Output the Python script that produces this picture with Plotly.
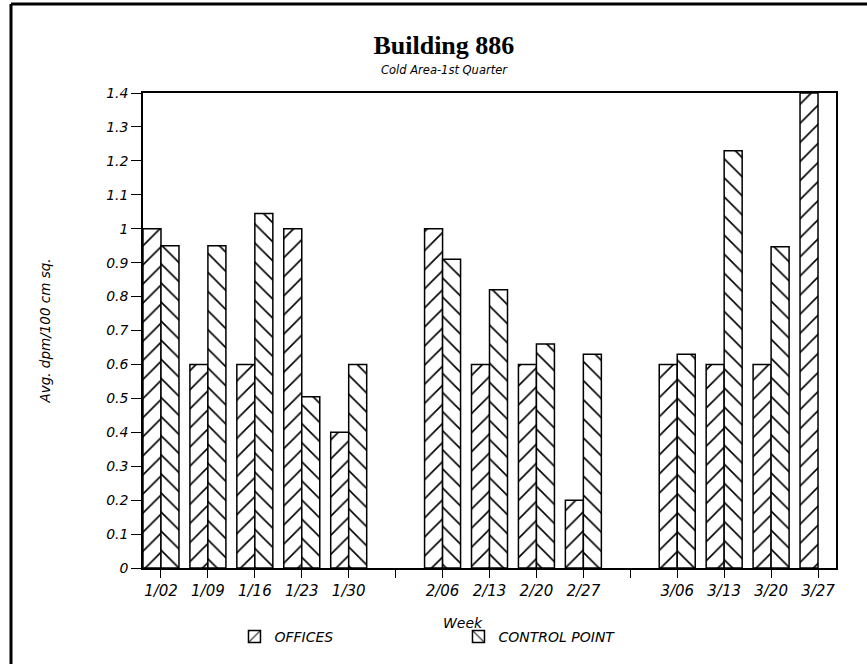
import plotly.graph_objects as go

# ---- data ----
weeks = ["1/02", "1/09", "1/16", "1/23", "1/30", " ",
         "2/06", "2/13", "2/20", "2/27", "  ",
         "3/06", "3/13", "3/20", "3/27"]
data_weeks = ["1/02", "1/09", "1/16", "1/23", "1/30",
              "2/06", "2/13", "2/20", "2/27",
              "3/06", "3/13", "3/20", "3/27"]
offices = [1.0, 0.6, 0.6, 1.0, 0.4,
           1.0, 0.6, 0.6, 0.2,
           0.6, 0.6, 0.6, 1.4]
control_point = [0.95, 0.95, 1.045, 0.505, 0.6,
                 0.91, 0.82, 0.66, 0.63,
                 0.63, 1.23, 0.947, None]
y_tick_vals = [0, 0.1, 0.2, 0.3, 0.4, 0.5, 0.6, 0.7, 0.8, 0.9, 1.0, 1.1, 1.2, 1.3, 1.4]
y_tick_text = ["0", "0.1", "0.2", "0.3", "0.4", "0.5", "0.6", "0.7", "0.8", "0.9",
               "1", "1.1", "1.2", "1.3", "1.4"]

FONT = "DejaVu Sans"

fig = go.Figure()
fig.add_trace(go.Bar(
    x=data_weeks, y=offices, name="OFFICES",
    marker=dict(color="white", line=dict(color="black", width=1.5),
                pattern=dict(shape="/", fgcolor="black", bgcolor="white", fgopacity=1,
                             size=13.5, solidity=0.12)),
))
fig.add_trace(go.Bar(
    x=data_weeks, y=control_point, name="CONTROL POINT",
    marker=dict(color="white", line=dict(color="black", width=1.5),
                pattern=dict(shape="\\", fgcolor="black", bgcolor="white", fgopacity=1,
                             size=13.5, solidity=0.12)),
))

fig.update_layout(
    width=867, height=664,
    paper_bgcolor="white", plot_bgcolor="white",
    margin=dict(l=143, r=31, t=93, b=96, autoexpand=False),
    barmode="group", bargap=0.233, bargroupgap=0,
    showlegend=True,
    title=dict(text="<b>Building 886</b>", x=0.512, xref="container", xanchor="center",
               y=1 - 45 / 664, yref="container", yanchor="middle",
               font=dict(family="Liberation Serif", size=26, color="black")),
    legend=dict(orientation="h", x=0.132, xanchor="left", y=-0.145, yanchor="middle",
                entrywidth=179, entrywidthmode="pixels",
                font=dict(family=FONT, size=14, color="black", style="italic"),
                bgcolor="rgba(0,0,0,0)", traceorder="normal"),
    font=dict(family=FONT, color="black"),
)

fig.update_xaxes(
    type="category", categoryorder="array", categoryarray=weeks,
    range=[-0.383, 14.383],
    showline=True, linecolor="black", linewidth=1.5, mirror=True,
    ticks="outside", ticklen=8, tickwidth=1.2, tickcolor="black",
    tickfont=dict(family=FONT, size=15, color="black", style="italic"),
    showgrid=False, zeroline=False, automargin=False,
)
fig.update_yaxes(
    range=[0, 1.4], tickvals=y_tick_vals, ticktext=y_tick_text,
    showline=True, linecolor="black", linewidth=1.5, mirror=True,
    ticks="outside", ticklen=10, tickwidth=1.2, tickcolor="black",
    tickfont=dict(family=FONT, size=14, color="black", style="italic"),
    showgrid=False, zeroline=False, automargin=False,
    title=dict(text="Avg. dpm/100 cm sq.", standoff=52,
               font=dict(family=FONT, size=13.5, color="black", style="italic")),
)

# subtitle and x-axis title
fig.add_annotation(text="Cold Area-1st Quarter", xref="paper", yref="paper",
                   x=(444 - 143) / 693, y=(568 - 70) / 475, showarrow=False,
                   xanchor="center", yanchor="middle",
                   font=dict(family=FONT, size=11.5, color="black", style="italic"))
fig.add_annotation(text="Week", xref="paper", yref="paper",
                   x=(463 - 143) / 693, y=(568 - 623) / 475, showarrow=False,
                   xanchor="center", yanchor="middle",
                   font=dict(family=FONT, size=14, color="black", style="italic"))

# page frame (left and top edges of the scanned page)
fig.add_shape(type="line", xref="paper", yref="paper",
              x0=(11 - 143) / 693, x1=(11 - 143) / 693, y0=-0.3, y1=(568 - 4) / 475,
              line=dict(color="black", width=3))
fig.add_shape(type="line", xref="paper", yref="paper",
              x0=(11 - 143) / 693, x1=1.1, y0=(568 - 4) / 475, y1=(568 - 4) / 475,
              line=dict(color="black", width=3))

fig.write_html("out.html", config={"displayModeBar": False},
               post_script="document.body.style.margin='0';document.body.style.overflow='hidden';")
